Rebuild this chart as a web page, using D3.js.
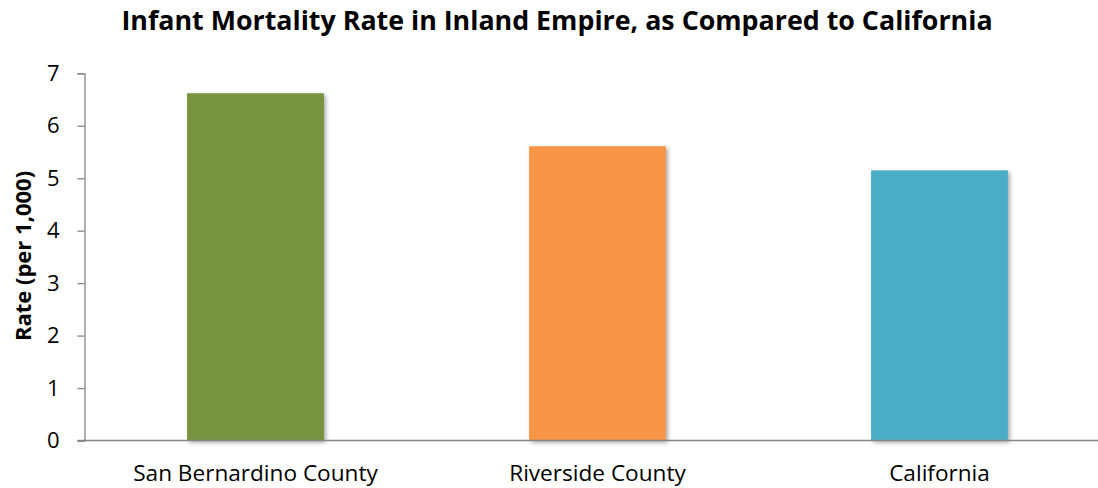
<!DOCTYPE html>
<html>
<head>
<meta charset="utf-8">
<script src="https://cdn.jsdelivr.net/npm/d3@7"></script>
<style>
  html, body { margin: 0; padding: 0; background: #fff; }
  svg { display: block; font-family: "Open Sans", sans-serif; }
</style>
</head>
<body>
<svg id="chart" width="1098" height="488"></svg>
<script>
// Infant mortality rate (per 1,000 live births)
const categories = ["San Bernardino County", "Riverside County", "California"];
const rates = [6.62, 5.61, 5.15];
const barColors = ["#77933C", "#F79646", "#4BACC6"];
const yTicks = [0, 1, 2, 3, 4, 5, 6, 7];
const titleText = "Infant Mortality Rate in Inland Empire, as Compared to California";
const yTitleText = "Rate (per 1,000)";

const svg = d3.select("#chart");
const plot = { left: 84.5, right: 1110.5, top: 73.3, bottom: 440.5 };

const x = d3.scaleBand()
  .domain(categories)
  .range([plot.left, plot.right])
  .paddingInner(0.6)
  .paddingOuter(0.3);

const y = d3.scaleLinear()
  .domain([0, 7])
  .range([plot.bottom, plot.top]);

// soft drop shadow under the bars
const defs = svg.append("defs");
const f = defs.append("filter").attr("id", "shadow")
  .attr("x", "-10%").attr("y", "-10%").attr("width", "120%").attr("height", "120%");
f.append("feDropShadow")
  .attr("dx", 2).attr("dy", 2).attr("stdDeviation", 2.2)
  .attr("flood-color", "#000").attr("flood-opacity", 0.35);

// bars
svg.append("g").selectAll("rect")
  .data(categories.map((c, i) => ({ c, v: rates[i], col: barColors[i] })))
  .join("rect")
  .attr("x", d => x(d.c))
  .attr("width", x.bandwidth())
  .attr("y", d => y(d.v))
  .attr("height", d => y(0) - y(d.v))
  .attr("fill", d => d.col)
  .attr("filter", "url(#shadow)");

// y axis
const yAxis = svg.append("g")
  .attr("transform", `translate(${plot.left},0)`)
  .call(d3.axisLeft(y).tickValues(yTicks).tickSize(7).tickPadding(18).tickFormat(d3.format("d")));
yAxis.select(".domain").attr("stroke", "#868686").attr("stroke-width", 1.3);
yAxis.selectAll(".tick line").attr("stroke", "#868686").attr("stroke-width", 1.3);
yAxis.selectAll(".tick text")
  .attr("fill", "#000")
  .style("font-size", "22px")
  .style("font-family", "'Open Sans', sans-serif");

// x axis baseline and category labels
const xAxis = svg.append("g")
  .attr("transform", `translate(0,${plot.bottom})`)
  .call(d3.axisBottom(x).tickSize(0).tickPadding(24.5));
xAxis.select(".domain").remove();
xAxis.append("line")
  .attr("x1", plot.left - 7).attr("x2", plot.right)
  .attr("stroke", "#868686").attr("stroke-width", 1.3);
xAxis.selectAll(".tick text")
  .attr("fill", "#000")
  .style("font-size", "22.6px")
  .style("font-family", "'Open Sans', sans-serif");

// title
svg.append("text")
  .attr("x", 557).attr("y", 30)
  .attr("text-anchor", "middle")
  .style("font-size", "26.8px")
  .style("font-weight", "bold")
  .text(titleText);

// y axis title
svg.append("text")
  .attr("transform", "translate(31,256) rotate(-90)")
  .attr("text-anchor", "middle")
  .style("font-size", "22px")
  .style("font-weight", "bold")
  .text(yTitleText);
</script>
</body>
</html>
